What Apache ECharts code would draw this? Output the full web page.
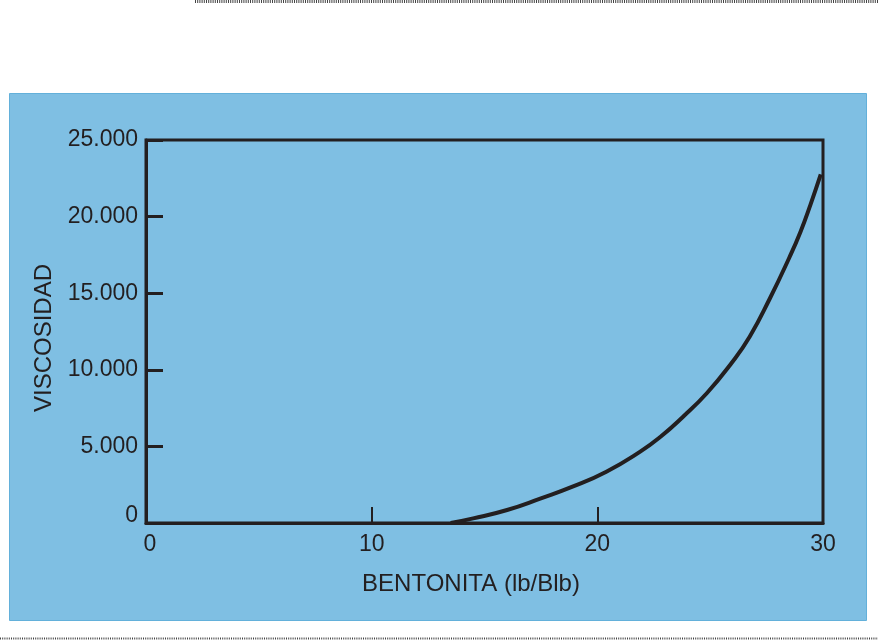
<!DOCTYPE html>
<html>
<head>
<meta charset="utf-8">
<script src="https://cdn.jsdelivr.net/npm/echarts@6/dist/echarts.min.js"></script>
<style>
html,body{margin:0;padding:0;background:#fff;}
#c{width:878px;height:640px;}
</style>
</head>
<body>
<div id="c"></div>
<script>
// Data
var bentonita = [13.5, 14.5, 16.0, 17.5, 18.9, 20.4, 21.9, 22.8, 23.8, 24.85, 25.9, 26.75, 27.65, 28.5, 29.0, 29.45, 29.9];
var viscosidad = [0, 300, 850, 1610, 2370, 3350, 4660, 5630, 6940, 8470, 10350, 12160, 14670, 17300, 19000, 20800, 22750];
var xTicks = [0, 10, 20, 30];
var yTicks = [0, 5000, 10000, 15000, 20000, 25000];
var xName = 'BENTONITA (lb/Blb)';
var yName = 'VISCOSIDAD';

var ink = '#231f20';
var font = 'Liberation Sans, Arial, Helvetica, sans-serif';

function fmtThousands(v) {
  var s = String(Math.round(v));
  return s.replace(/\B(?=(\d{3})+(?!\d))/g, '.');
}

var seriesData = bentonita.map(function (x, i) { return [x, viscosidad[i]]; });

var chart = echarts.init(document.getElementById('c'), null, {renderer: 'canvas'});
chart.setOption({
  animation: false,
  backgroundColor: '#ffffff',
  graphic: [
    {type: 'rect', z: -10, shape: {x: 9.5, y: 93.5, width: 857, height: 527},
     style: {fill: '#7fbfe3', stroke: '#63b0da', lineWidth: 1}},
    {type: 'line', z: -10, shape: {x1: 195, y1: 1.5, x2: 878, y2: 1.5},
     style: {stroke: '#444', lineWidth: 3, lineDash: [1, 1.2]}},
    {type: 'line', z: -10, shape: {x1: 0, y1: 638.5, x2: 878, y2: 638.5},
     style: {stroke: '#444', lineWidth: 2, lineDash: [1, 1.2]}}
  ],
  grid: {
    left: 146, right: 55, top: 140, bottom: 117,
    show: true, borderColor: ink, borderWidth: 3, backgroundColor: 'transparent'
  },
  xAxis: {
    type: 'value', min: xTicks[0], max: xTicks[xTicks.length - 1], interval: 10,
    name: xName, nameLocation: 'middle', nameGap: 49,
    nameTextStyle: {color: ink, fontSize: 24, fontFamily: font, padding: [0, 27, 0, 0]},
    axisLine: {show: true, onZero: false, lineStyle: {color: ink, width: 3}},
    axisTick: {show: true, inside: true, length: 16, lineStyle: {color: ink, width: 2}},
    splitLine: {show: false},
    axisLabel: {
      color: ink, fontSize: 23, fontFamily: font, margin: 10,
      formatter: function (v) { return v === 0 ? '{z|0}' : String(v); },
      rich: {z: {color: ink, fontSize: 23, fontFamily: font, padding: [0, 0, 0, 8]}}
    }
  },
  yAxis: {
    type: 'value', min: yTicks[0], max: yTicks[yTicks.length - 1], interval: 5000,
    name: yName, nameLocation: 'middle', nameGap: 82, nameRotate: 90,
    nameTextStyle: {color: ink, fontSize: 24, fontFamily: font, padding: [0, 13, 0, 0]},
    axisLine: {show: true, onZero: false, lineStyle: {color: ink, width: 3}},
    axisTick: {show: true, inside: true, length: 17, lineStyle: {color: ink, width: 3}},
    splitLine: {show: false},
    axisLabel: {
      color: ink, fontSize: 23, fontFamily: font, margin: 8,
      formatter: function (v) { return v === 0 ? '{z|0}' : fmtThousands(v); },
      rich: {z: {color: ink, fontSize: 23, fontFamily: font, padding: [0, 0, 14, 0]}}
    }
  },
  series: [{
    type: 'line', data: seriesData, smooth: true,
    showSymbol: false, symbol: 'none',
    lineStyle: {color: ink, width: 4}, clip: false
  }]
});
</script>
</body>
</html>
